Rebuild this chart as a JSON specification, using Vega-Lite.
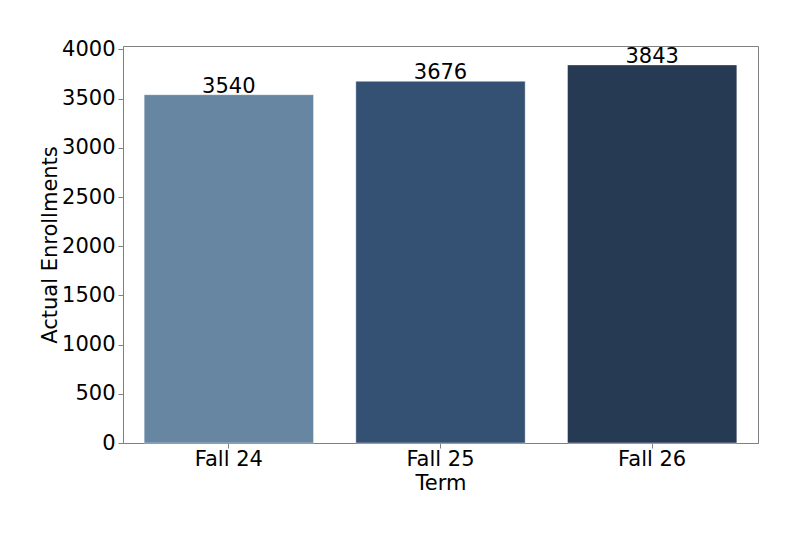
{
  "$schema": "https://vega.github.io/schema/vega-lite/v6.json",
  "autosize": "none",
  "width": 635,
  "height": 397,
  "padding": {"left": 123, "top": 46, "right": 42, "bottom": 90},
  "background": "white",
  "config": {
    "font": "DejaVu Sans",
    "view": {"stroke": "#808080", "strokeWidth": 1},
    "axis": {
      "labelFont": "DejaVu Sans",
      "titleFont": "DejaVu Sans",
      "labelFontSize": 21,
      "titleFontSize": 21,
      "titleFontWeight": "normal",
      "labelColor": "#000000",
      "titleColor": "#000000",
      "domainColor": "#808080",
      "tickColor": "#808080",
      "tickSize": 5,
      "grid": false
    }
  },
  "data": {
    "values": [
      {"Term": "Fall 24", "Enrollments": 3540},
      {"Term": "Fall 25", "Enrollments": 3676},
      {"Term": "Fall 26", "Enrollments": 3843}
    ]
  },
  "encoding": {
    "x": {
      "field": "Term",
      "type": "nominal",
      "title": "Term",
      "scale": {"paddingInner": 0.2, "paddingOuter": 0.1},
      "axis": {"labelAngle": 0, "labelPadding": 0, "titlePadding": 3}
    },
    "y": {
      "field": "Enrollments",
      "type": "quantitative",
      "title": "Actual Enrollments",
      "scale": {"domain": [0, 4035], "nice": false},
      "axis": {"values": [0, 500, 1000, 1500, 2000, 2500, 3000, 3500, 4000], "format": "d", "labelPadding": 3, "titlePadding": 1}
    }
  },
  "layer": [
    {
      "mark": {"type": "bar", "stroke": "#ffffff", "strokeOpacity": 0.4, "strokeWidth": 1},
      "encoding": {
        "color": {
          "field": "Term",
          "type": "nominal",
          "scale": {"domain": ["Fall 24", "Fall 25", "Fall 26"], "range": ["#6786a2", "#345073", "#273a54"]},
          "legend": null
        }
      }
    },
    {
      "mark": {"type": "text", "baseline": "bottom", "dy": 2, "fontSize": 21, "color": "#000000"},
      "encoding": {"text": {"field": "Enrollments", "type": "quantitative", "format": "d"}}
    }
  ]
}
